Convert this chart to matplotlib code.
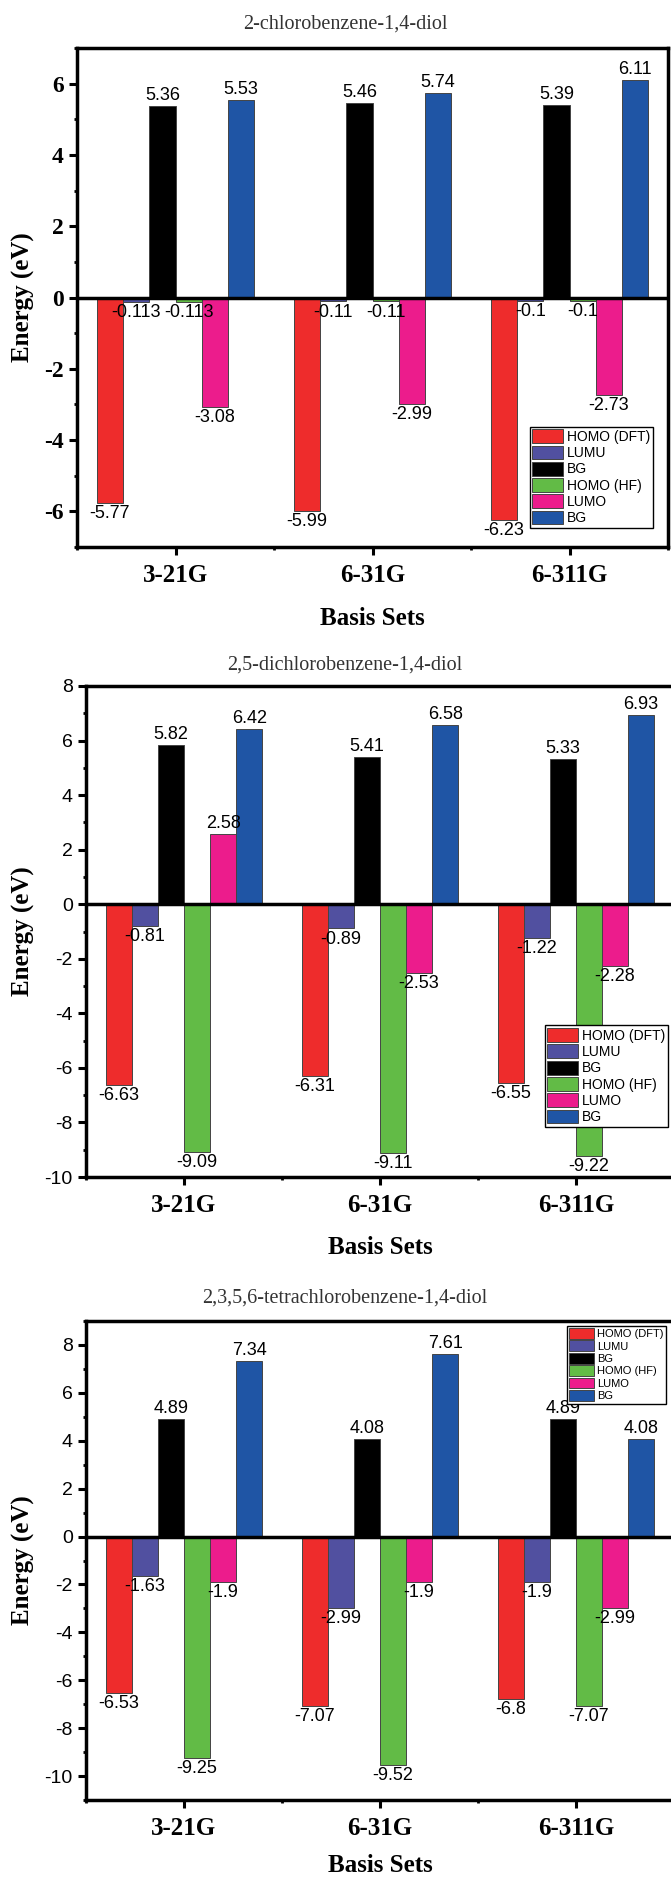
import matplotlib
matplotlib.use("Agg")
import matplotlib.pyplot as plt
import numpy as np
from matplotlib.ticker import MultipleLocator

# Guion normal en lugar del signo menos unicode (como en la figura original)
plt.rcParams["axes.unicode_minus"] = False

# Conjuntos base y series
bases = ["3-21G", "6-31G", "6-311G"]
series = ["HOMO (DFT)", "LUMU", "BG", "HOMO (HF)", "LUMO", "BG"]
colores = ["#ee2c2c", "#5150a0", "#000000", "#62bb46", "#ec1c8c", "#1f55a5"]

# Panel 1: 2-chlorobenzene-1,4-diol
titulo_1 = "2-chlorobenzene-1,4-diol"
homo_dft_1 = [-5.77, -5.99, -6.23]
lumu_1 = [-0.113, -0.11, -0.1]
bg_dft_1 = [5.36, 5.46, 5.39]
homo_hf_1 = [-0.113, -0.11, -0.1]
lumo_1 = [-3.08, -2.99, -2.73]
bg_hf_1 = [5.53, 5.74, 6.11]

# Panel 2: 2,5-dichlorobenzene-1,4-diol
titulo_2 = "2,5-dichlorobenzene-1,4-diol"
homo_dft_2 = [-6.63, -6.31, -6.55]
lumu_2 = [-0.81, -0.89, -1.22]
bg_dft_2 = [5.82, 5.41, 5.33]
homo_hf_2 = [-9.09, -9.11, -9.22]
lumo_2 = [2.58, -2.53, -2.28]
bg_hf_2 = [6.42, 6.58, 6.93]

# Panel 3: 2,3,5,6-tetrachlorobenzene-1,4-diol
titulo_3 = "2,3,5,6-tetrachlorobenzene-1,4-diol"
homo_dft_3 = [-6.53, -7.07, -6.8]
lumu_3 = [-1.63, -2.99, -1.9]
bg_dft_3 = [4.89, 4.08, 4.89]
homo_hf_3 = [-9.25, -9.52, -7.07]
lumo_3 = [-1.9, -1.9, -2.99]
bg_hf_3 = [7.34, 7.61, 4.08]

SERIF = "Liberation Serif"
SANS = "Liberation Sans"
W, H = 671, 1877


# Dibujar un panel de barras agrupadas
def dibujar_panel(ax, valores, ylim, ytick_bold, leyenda):
    x = np.arange(1, len(bases) + 1)
    ancho = 0.133
    for i, (nombre, vals, color) in enumerate(zip(series, valores, colores)):
        desp = (i - 2.5) * ancho
        barras = ax.bar(x + desp, vals, ancho, color=color, edgecolor="#444444",
                        linewidth=0.7, label=nombre, zorder=2)
        for b, v in zip(barras, vals):
            arriba = v > 0
            ax.annotate(f"{v:g}", (b.get_x() + b.get_width() / 2, v),
                        xytext=(0, 1.5 if arriba else -1.5), textcoords="offset points",
                        ha="center", va="bottom" if arriba else "top",
                        fontsize=13, family=SANS, zorder=4)

    ax.axhline(0, color="black", lw=2.5, zorder=3)
    ax.set_xlim(0.5, 3.5)
    ax.set_ylim(*ylim)
    ax.set_xticks(x)
    ax.set_xticklabels(bases, fontsize=18, fontweight="bold", family=SERIF)
    ax.xaxis.set_minor_locator(MultipleLocator(0.5))
    ax.yaxis.set_major_locator(MultipleLocator(2))
    ax.yaxis.set_minor_locator(MultipleLocator(1))
    for s in ax.spines.values():
        s.set_linewidth(2.5)
    ax.tick_params(axis="both", which="major", direction="out", length=5.5, width=2.2, pad=4)
    ax.tick_params(axis="both", which="minor", direction="out", length=2.5, width=2)
    ax.tick_params(axis="x", which="major", pad=7)
    if ytick_bold:
        for t in ax.get_yticklabels():
            t.set_fontsize(17)
            t.set_fontweight("bold")
            t.set_family(SERIF)
    else:
        for t in ax.get_yticklabels():
            t.set_fontsize(14)
            t.set_family(SANS)

    ax.set_ylabel("Energy (eV)", fontsize=18, fontweight="bold", family=SERIF)
    ax.set_xlabel("Basis Sets", fontsize=18, fontweight="bold", family=SERIF)

    leg = ax.legend(prop={"family": SANS, "size": leyenda["size"]}, loc=leyenda["loc"],
                    bbox_to_anchor=leyenda["anchor"], frameon=True, fancybox=False,
                    edgecolor="black", framealpha=1, borderpad=0.2,
                    labelspacing=leyenda["spacing"], handlelength=leyenda["hl"],
                    handleheight=leyenda["hh"], handletextpad=0.3, borderaxespad=0)
    leg.get_frame().set_linewidth(1.0)
    leg.set_zorder(5)


fig = plt.figure(figsize=(W / 100, H / 100), dpi=100)

# Posiciones en pixeles: (izquierda, derecha, arriba, abajo)
cajas = [(77, 668, 48, 547), (86, 674, 686, 1177), (86, 674, 1321, 1800)]
titulos = [(titulo_1, 24), (titulo_2, 665), (titulo_3, 1298)]
datos = [
    [homo_dft_1, lumu_1, bg_dft_1, homo_hf_1, lumo_1, bg_hf_1],
    [homo_dft_2, lumu_2, bg_dft_2, homo_hf_2, lumo_2, bg_hf_2],
    [homo_dft_3, lumu_3, bg_dft_3, homo_hf_3, lumo_3, bg_hf_3],
]
limites = [(-7, 7), (-10, 8), (-11, 9)]
leyendas = [
    {"size": 10, "loc": "lower right", "anchor": (0.975, 0.038), "spacing": 0.12, "hl": 2.2, "hh": 1.15},
    {"size": 10, "loc": "lower right", "anchor": (0.99, 0.102), "spacing": 0.12, "hl": 2.2, "hh": 1.15},
    {"size": 8, "loc": "upper right", "anchor": (0.986, 0.99), "spacing": 0.12, "hl": 2.2, "hh": 1.1},
]
xlabel_y = [71, 71, 66]

for k in range(3):
    l, r, t, b = cajas[k]
    ax = fig.add_axes([l / W, 1 - b / H, (r - l) / W, (b - t) / H])
    dibujar_panel(ax, datos[k], limites[k], k == 0, leyendas[k])
    ax.yaxis.set_label_coords((23 - l) / (r - l), 0.5)
    ax.xaxis.set_label_coords(0.5, -xlabel_y[k] / (b - t))
    ax.xaxis.label.set_va("center")
    ax.yaxis.label.set_va("center")
    texto, yt = titulos[k]
    fig.text(345 / W, 1 - yt / H, texto, ha="center", va="center",
             fontsize=14.5, family=SERIF, color="#333333")

fig.savefig("out.png", dpi=100)
